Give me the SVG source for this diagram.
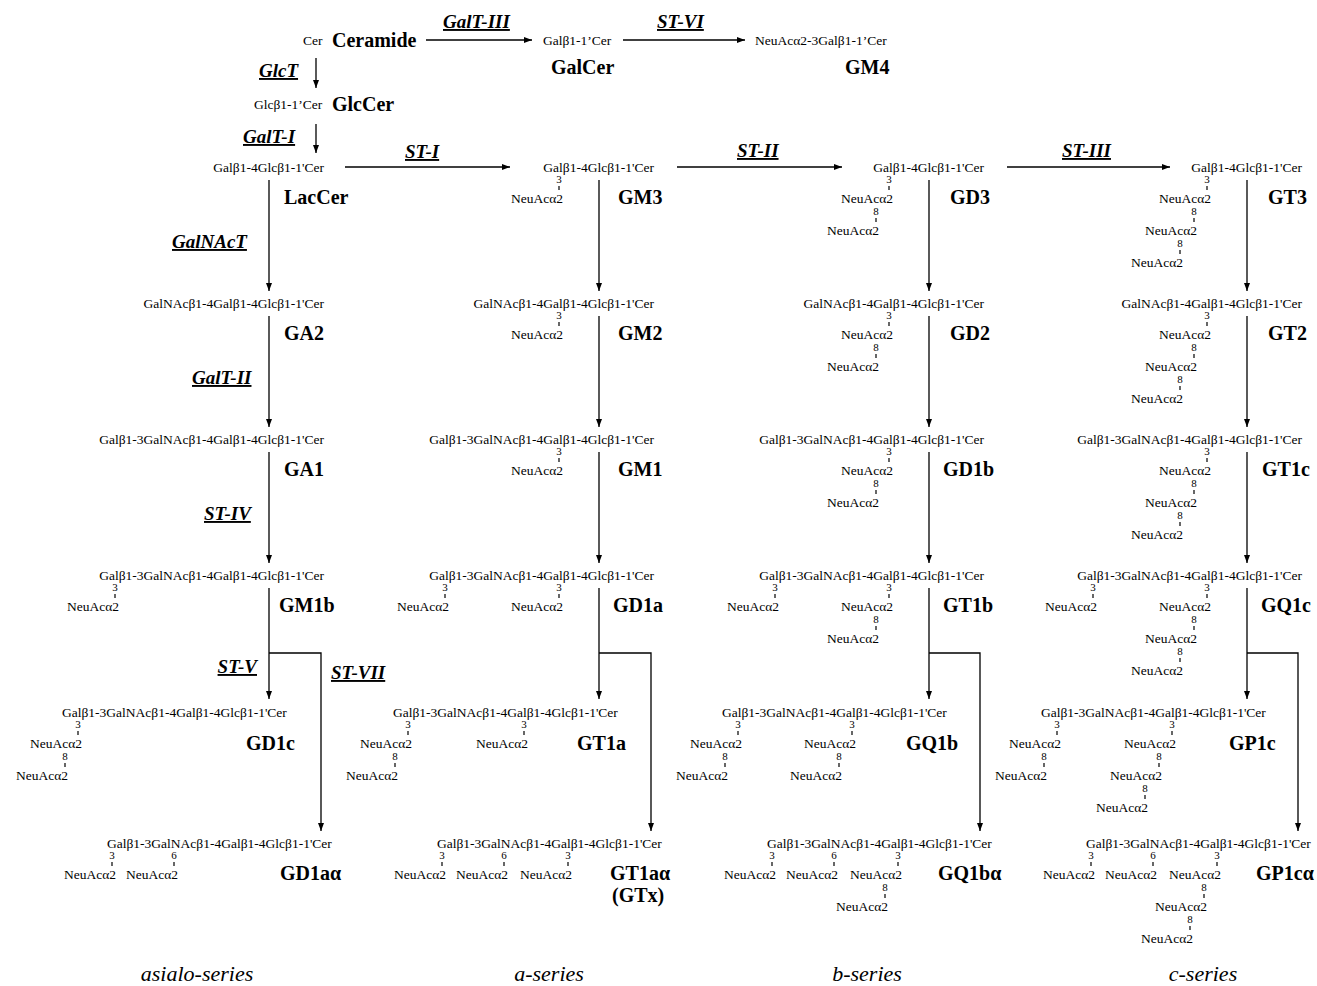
<svg xmlns="http://www.w3.org/2000/svg" width="1317" height="986" viewBox="0 0 1317 986">
<style>
text{font-family:"Liberation Serif","Times New Roman",serif;fill:#000}
.ch{font-size:13.5px}
.e{text-anchor:end}
.dg{font-size:11px;text-anchor:middle}
.na{font-size:13.5px;text-anchor:end}
.lb{font-size:20px;font-weight:bold}
.en{font-size:19px;font-weight:bold;font-style:italic;text-decoration:underline}
.se{font-size:22px;font-style:italic;text-anchor:middle}
.tk{stroke:#000;stroke-width:1.2;fill:none}
.ln{stroke:#000;stroke-width:1.3;fill:none}
.ar{marker-end:url(#ah)}
</style>
<defs>
<marker id="ah" markerUnits="userSpaceOnUse" viewBox="0 0 8 6" refX="8" refY="3" markerWidth="8" markerHeight="6" orient="auto"><path d="M0,0L8,3L0,6z" fill="#000"/></marker>
</defs>
<rect width="1317" height="986" fill="#fff"/>

<g id="connectors">
<path class="ln ar" d="M426,40H532"/>
<path class="ln ar" d="M623,40H745"/>
<path class="ln ar" d="M316,58V88"/>
<path class="ln ar" d="M316,124V153"/>
<path class="ln ar" d="M345,167H510"/>
<path class="ln ar" d="M677,167H842"/>
<path class="ln ar" d="M1007,167H1170"/>
<path class="ln ar" d="M269,180V291"/><path class="ln ar" d="M269,316V427"/><path class="ln ar" d="M269,452V563"/><path class="ln ar" d="M269,588V699"/><path class="ln ar" d="M269,653H321V831"/>
<path class="ln ar" d="M599,180V291"/><path class="ln ar" d="M599,316V427"/><path class="ln ar" d="M599,452V563"/><path class="ln ar" d="M599,588V699"/><path class="ln ar" d="M599,653H651V831"/>
<path class="ln ar" d="M929,180V291"/><path class="ln ar" d="M929,316V427"/><path class="ln ar" d="M929,452V563"/><path class="ln ar" d="M929,588V699"/><path class="ln ar" d="M929,653H980V831"/>
<path class="ln ar" d="M1247,180V291"/><path class="ln ar" d="M1247,316V427"/><path class="ln ar" d="M1247,452V563"/><path class="ln ar" d="M1247,588V699"/><path class="ln ar" d="M1247,653H1298V831"/>
</g>

<g id="enzymes">
<text class="en" x="443" y="28">GalT-III</text>
<text class="en" x="657" y="28">ST-VI</text>
<text class="en" x="259" y="77">GlcT</text>
<text class="en" x="243" y="143">GalT-I</text>
<text class="en" x="405" y="158">ST-I</text>
<text class="en" x="737" y="157">ST-II</text>
<text class="en" x="1062" y="157">ST-III</text>
<text class="en" x="172" y="248">GalNAcT</text>
<text class="en" x="192" y="384">GalT-II</text>
<text class="en" x="204" y="520">ST-IV</text>
<text class="en e" x="257" y="673">ST-V</text>
<text class="en" x="331" y="679">ST-VII</text>
</g>

<g id="Ceramide"><text class="ch" x="303" y="45">Cer</text><text class="lb" x="332" y="47">Ceramide</text></g>
<g id="GalCer"><text class="ch" x="543" y="45">Galβ1-1’Cer</text><text class="lb" x="551" y="74">GalCer</text></g>
<g id="GM4"><text class="ch" x="755" y="45">NeuAcα2-3Galβ1-1’Cer</text><text class="lb" x="845" y="74">GM4</text></g>
<g id="GlcCer"><text class="ch" x="254" y="109">Glcβ1-1’Cer</text><text class="lb" x="332" y="111">GlcCer</text></g>

<!-- Row 0 -->
<g id="LacCer"><text class="ch e" x="324" y="171.5">Galβ1-4Glcβ1-1'Cer</text><text class="lb" x="284" y="204">LacCer</text></g>
<g id="GM3"><text class="ch e" x="654" y="171.5">Galβ1-4Glcβ1-1'Cer</text>
<text class="dg" x="559" y="183">3</text><path class="tk" d="M559,186v4"/><text class="na" x="563" y="203">NeuAcα2</text>
<text class="lb" x="618" y="204">GM3</text></g>
<g id="GD3"><text class="ch e" x="984" y="171.5">Galβ1-4Glcβ1-1'Cer</text>
<text class="dg" x="889" y="183">3</text><path class="tk" d="M889,186v4"/><text class="na" x="893" y="203">NeuAcα2</text>
<text class="dg" x="876" y="215">8</text><path class="tk" d="M876,218v4"/><text class="na" x="879" y="235">NeuAcα2</text>
<text class="lb" x="950" y="204">GD3</text></g>
<g id="GT3"><text class="ch e" x="1302" y="171.5">Galβ1-4Glcβ1-1'Cer</text>
<text class="dg" x="1207" y="183">3</text><path class="tk" d="M1207,186v4"/><text class="na" x="1211" y="203">NeuAcα2</text>
<text class="dg" x="1194" y="215">8</text><path class="tk" d="M1194,218v4"/><text class="na" x="1197" y="235">NeuAcα2</text>
<text class="dg" x="1180" y="247">8</text><path class="tk" d="M1180,250v4"/><text class="na" x="1183" y="267">NeuAcα2</text>
<text class="lb" x="1268" y="204">GT3</text></g>

<!-- Row 1 -->
<g id="GA2"><text class="ch e" x="324" y="307.5">GalNAcβ1-4Galβ1-4Glcβ1-1'Cer</text><text class="lb" x="284" y="340">GA2</text></g>
<g id="GM2"><text class="ch e" x="654" y="307.5">GalNAcβ1-4Galβ1-4Glcβ1-1'Cer</text>
<text class="dg" x="559" y="319">3</text><path class="tk" d="M559,322v4"/><text class="na" x="563" y="339">NeuAcα2</text>
<text class="lb" x="618" y="340">GM2</text></g>
<g id="GD2"><text class="ch e" x="984" y="307.5">GalNAcβ1-4Galβ1-4Glcβ1-1'Cer</text>
<text class="dg" x="889" y="319">3</text><path class="tk" d="M889,322v4"/><text class="na" x="893" y="339">NeuAcα2</text>
<text class="dg" x="876" y="351">8</text><path class="tk" d="M876,354v4"/><text class="na" x="879" y="371">NeuAcα2</text>
<text class="lb" x="950" y="340">GD2</text></g>
<g id="GT2"><text class="ch e" x="1302" y="307.5">GalNAcβ1-4Galβ1-4Glcβ1-1'Cer</text>
<text class="dg" x="1207" y="319">3</text><path class="tk" d="M1207,322v4"/><text class="na" x="1211" y="339">NeuAcα2</text>
<text class="dg" x="1194" y="351">8</text><path class="tk" d="M1194,354v4"/><text class="na" x="1197" y="371">NeuAcα2</text>
<text class="dg" x="1180" y="383">8</text><path class="tk" d="M1180,386v4"/><text class="na" x="1183" y="403">NeuAcα2</text>
<text class="lb" x="1268" y="340">GT2</text></g>

<!-- Row 2 -->
<g id="GA1"><text class="ch e" x="324" y="443.5">Galβ1-3GalNAcβ1-4Galβ1-4Glcβ1-1'Cer</text><text class="lb" x="284" y="476">GA1</text></g>
<g id="GM1"><text class="ch e" x="654" y="443.5">Galβ1-3GalNAcβ1-4Galβ1-4Glcβ1-1'Cer</text>
<text class="dg" x="559" y="455">3</text><path class="tk" d="M559,458v4"/><text class="na" x="563" y="475">NeuAcα2</text>
<text class="lb" x="618" y="476">GM1</text></g>
<g id="GD1b"><text class="ch e" x="984" y="443.5">Galβ1-3GalNAcβ1-4Galβ1-4Glcβ1-1'Cer</text>
<text class="dg" x="889" y="455">3</text><path class="tk" d="M889,458v4"/><text class="na" x="893" y="475">NeuAcα2</text>
<text class="dg" x="876" y="487">8</text><path class="tk" d="M876,490v4"/><text class="na" x="879" y="507">NeuAcα2</text>
<text class="lb" x="943" y="476">GD1b</text></g>
<g id="GT1c"><text class="ch e" x="1302" y="443.5">Galβ1-3GalNAcβ1-4Galβ1-4Glcβ1-1'Cer</text>
<text class="dg" x="1207" y="455">3</text><path class="tk" d="M1207,458v4"/><text class="na" x="1211" y="475">NeuAcα2</text>
<text class="dg" x="1194" y="487">8</text><path class="tk" d="M1194,490v4"/><text class="na" x="1197" y="507">NeuAcα2</text>
<text class="dg" x="1180" y="519">8</text><path class="tk" d="M1180,522v4"/><text class="na" x="1183" y="539">NeuAcα2</text>
<text class="lb" x="1262" y="476">GT1c</text></g>

<!-- Row 3 -->
<g id="GM1b"><text class="ch e" x="324" y="579.5">Galβ1-3GalNAcβ1-4Galβ1-4Glcβ1-1'Cer</text>
<text class="dg" x="115" y="591">3</text><path class="tk" d="M115,594v4"/><text class="na" x="119" y="611">NeuAcα2</text>
<text class="lb" x="279" y="612">GM1b</text></g>
<g id="GD1a"><text class="ch e" x="654" y="579.5">Galβ1-3GalNAcβ1-4Galβ1-4Glcβ1-1'Cer</text>
<text class="dg" x="445" y="591">3</text><path class="tk" d="M445,594v4"/><text class="na" x="449" y="611">NeuAcα2</text>
<text class="dg" x="559" y="591">3</text><path class="tk" d="M559,594v4"/><text class="na" x="563" y="611">NeuAcα2</text>
<text class="lb" x="613" y="612">GD1a</text></g>
<g id="GT1b"><text class="ch e" x="984" y="579.5">Galβ1-3GalNAcβ1-4Galβ1-4Glcβ1-1'Cer</text>
<text class="dg" x="775" y="591">3</text><path class="tk" d="M775,594v4"/><text class="na" x="779" y="611">NeuAcα2</text>
<text class="dg" x="889" y="591">3</text><path class="tk" d="M889,594v4"/><text class="na" x="893" y="611">NeuAcα2</text>
<text class="dg" x="876" y="623">8</text><path class="tk" d="M876,626v4"/><text class="na" x="879" y="643">NeuAcα2</text>
<text class="lb" x="943" y="612">GT1b</text></g>
<g id="GQ1c"><text class="ch e" x="1302" y="579.5">Galβ1-3GalNAcβ1-4Galβ1-4Glcβ1-1'Cer</text>
<text class="dg" x="1093" y="591">3</text><path class="tk" d="M1093,594v4"/><text class="na" x="1097" y="611">NeuAcα2</text>
<text class="dg" x="1207" y="591">3</text><path class="tk" d="M1207,594v4"/><text class="na" x="1211" y="611">NeuAcα2</text>
<text class="dg" x="1194" y="623">8</text><path class="tk" d="M1194,626v4"/><text class="na" x="1197" y="643">NeuAcα2</text>
<text class="dg" x="1180" y="655">8</text><path class="tk" d="M1180,658v4"/><text class="na" x="1183" y="675">NeuAcα2</text>
<text class="lb" x="1261" y="612">GQ1c</text></g>

<!-- Row 4 -->
<g id="GD1c"><text class="ch" x="62" y="716.5">Galβ1-3GalNAcβ1-4Galβ1-4Glcβ1-1'Cer</text>
<text class="dg" x="78" y="728">3</text><path class="tk" d="M78,731v4"/><text class="na" x="82" y="748">NeuAcα2</text>
<text class="dg" x="65" y="760">8</text><path class="tk" d="M65,763v4"/><text class="na" x="68" y="780">NeuAcα2</text>
<text class="lb" x="246" y="750">GD1c</text></g>
<g id="GT1a"><text class="ch" x="393" y="716.5">Galβ1-3GalNAcβ1-4Galβ1-4Glcβ1-1'Cer</text>
<text class="dg" x="408" y="728">3</text><path class="tk" d="M408,731v4"/><text class="na" x="412" y="748">NeuAcα2</text>
<text class="dg" x="395" y="760">8</text><path class="tk" d="M395,763v4"/><text class="na" x="398" y="780">NeuAcα2</text>
<text class="dg" x="524" y="728">3</text><path class="tk" d="M524,731v4"/><text class="na" x="528" y="748">NeuAcα2</text>
<text class="lb" x="577" y="750">GT1a</text></g>
<g id="GQ1b"><text class="ch" x="722" y="716.5">Galβ1-3GalNAcβ1-4Galβ1-4Glcβ1-1'Cer</text>
<text class="dg" x="738" y="728">3</text><path class="tk" d="M738,731v4"/><text class="na" x="742" y="748">NeuAcα2</text>
<text class="dg" x="725" y="760">8</text><path class="tk" d="M725,763v4"/><text class="na" x="728" y="780">NeuAcα2</text>
<text class="dg" x="852" y="728">3</text><path class="tk" d="M852,731v4"/><text class="na" x="856" y="748">NeuAcα2</text>
<text class="dg" x="839" y="760">8</text><path class="tk" d="M839,763v4"/><text class="na" x="842" y="780">NeuAcα2</text>
<text class="lb" x="906" y="750">GQ1b</text></g>
<g id="GP1c"><text class="ch" x="1041" y="716.5">Galβ1-3GalNAcβ1-4Galβ1-4Glcβ1-1'Cer</text>
<text class="dg" x="1057" y="728">3</text><path class="tk" d="M1057,731v4"/><text class="na" x="1061" y="748">NeuAcα2</text>
<text class="dg" x="1044" y="760">8</text><path class="tk" d="M1044,763v4"/><text class="na" x="1047" y="780">NeuAcα2</text>
<text class="dg" x="1172" y="728">3</text><path class="tk" d="M1172,731v4"/><text class="na" x="1176" y="748">NeuAcα2</text>
<text class="dg" x="1159" y="760">8</text><path class="tk" d="M1159,763v4"/><text class="na" x="1162" y="780">NeuAcα2</text>
<text class="dg" x="1145" y="792">8</text><path class="tk" d="M1145,795v4"/><text class="na" x="1148" y="812">NeuAcα2</text>
<text class="lb" x="1229" y="750">GP1c</text></g>

<!-- Row 5 -->
<g id="GD1aalpha"><text class="ch" x="107" y="847.5">Galβ1-3GalNAcβ1-4Galβ1-4Glcβ1-1'Cer</text>
<text class="dg" x="112" y="859">3</text><path class="tk" d="M112,862v4"/><text class="na" x="116" y="879">NeuAcα2</text>
<text class="dg" x="174" y="859">6</text><path class="tk" d="M174,862v4"/><text class="na" x="178" y="879">NeuAcα2</text>
<text class="lb" x="280" y="880">GD1aα</text></g>
<g id="GT1aalpha"><text class="ch" x="437" y="847.5">Galβ1-3GalNAcβ1-4Galβ1-4Glcβ1-1'Cer</text>
<text class="dg" x="442" y="859">3</text><path class="tk" d="M442,862v4"/><text class="na" x="446" y="879">NeuAcα2</text>
<text class="dg" x="504" y="859">6</text><path class="tk" d="M504,862v4"/><text class="na" x="508" y="879">NeuAcα2</text>
<text class="dg" x="568" y="859">3</text><path class="tk" d="M568,862v4"/><text class="na" x="572" y="879">NeuAcα2</text>
<text class="lb" x="610" y="880">GT1aα</text><text class="lb" x="612" y="902">(GTx)</text></g>
<g id="GQ1balpha"><text class="ch" x="767" y="847.5">Galβ1-3GalNAcβ1-4Galβ1-4Glcβ1-1'Cer</text>
<text class="dg" x="772" y="859">3</text><path class="tk" d="M772,862v4"/><text class="na" x="776" y="879">NeuAcα2</text>
<text class="dg" x="834" y="859">6</text><path class="tk" d="M834,862v4"/><text class="na" x="838" y="879">NeuAcα2</text>
<text class="dg" x="898" y="859">3</text><path class="tk" d="M898,862v4"/><text class="na" x="902" y="879">NeuAcα2</text>
<text class="dg" x="885" y="891">8</text><path class="tk" d="M885,894v4"/><text class="na" x="888" y="911">NeuAcα2</text>
<text class="lb" x="938" y="880">GQ1bα</text></g>
<g id="GP1calpha"><text class="ch" x="1086" y="847.5">Galβ1-3GalNAcβ1-4Galβ1-4Glcβ1-1'Cer</text>
<text class="dg" x="1091" y="859">3</text><path class="tk" d="M1091,862v4"/><text class="na" x="1095" y="879">NeuAcα2</text>
<text class="dg" x="1153" y="859">6</text><path class="tk" d="M1153,862v4"/><text class="na" x="1157" y="879">NeuAcα2</text>
<text class="dg" x="1217" y="859">3</text><path class="tk" d="M1217,862v4"/><text class="na" x="1221" y="879">NeuAcα2</text>
<text class="dg" x="1204" y="891">8</text><path class="tk" d="M1204,894v4"/><text class="na" x="1207" y="911">NeuAcα2</text>
<text class="dg" x="1190" y="923">8</text><path class="tk" d="M1190,926v4"/><text class="na" x="1193" y="943">NeuAcα2</text>
<text class="lb" x="1256" y="880">GP1cα</text></g>

<g id="series">
<text class="se" x="197" y="981">asialo-series</text>
<text class="se" x="549" y="981">a-series</text>
<text class="se" x="867" y="981">b-series</text>
<text class="se" x="1203" y="981">c-series</text>
</g>
</svg>
